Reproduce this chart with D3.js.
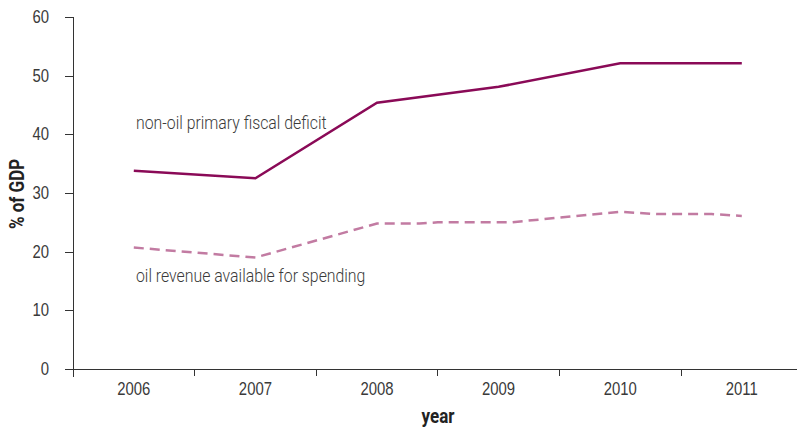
<!DOCTYPE html>
<meta charset="utf-8">
<style>
    body { margin: 0; background: #fff; }
    svg { font-family: Roboto, "Liberation Sans", sans-serif; }
    .axis path, .axis line { fill: none; stroke: #333; shape-rendering: crispEdges; }
    .axis text { fill: #3a3a3a; font-size: 17.5px; font-weight: 300; }
    .label { fill: #3a3a3a; font-size: 18px; font-weight: 300; }
    .title { fill: #222; font-size: 20px; font-weight: bold; }
</style>
<body>
<script src="https://cdn.jsdelivr.net/npm/d3@7"></script>
<script>
    const years = [2006, 2007, 2008, 2009, 2010, 2011];
    const yTicks = [0, 10, 20, 30, 40, 50, 60];

    // non-oil primary fiscal deficit (% of GDP), yearly
    const deficitX = [2006, 2007, 2008, 2009, 2010, 2011];
    const deficit = [33.8, 32.5, 45.4, 48.1, 52.1, 52.1];

    // oil revenue available for spending (% of GDP)
    const oilX = [2006, 2007, 2008, 2008.35, 2008.5, 2009, 2009.1, 2009.5, 2010, 2010.3, 2010.75, 2011];
    const oil = [20.7, 19.0, 24.8, 24.8, 25.0, 25.0, 25.0, 25.8, 26.8, 26.4, 26.4, 26.1];

    const width = 797, height = 427;
    const plotLeft = 73, plotTop = 17, plotBottom = 369;
    const condense = 'scale(0.85,1)';

    const svg = d3.select('body').append('svg')
        .attr('width', width)
        .attr('height', height);

    const x = d3.scaleBand()
        .domain(years)
        .range([plotLeft, plotLeft + 6 * 121.6])
        .padding(0);

    // numeric year -> centre of its band
    const xn = d3.scaleLinear()
        .domain([2006, 2011])
        .range([x(2006) + x.bandwidth() / 2, x(2011) + x.bandwidth() / 2]);

    const y = d3.scaleLinear()
        .domain([0, 60])
        .range([plotBottom, plotTop]);

    // y axis
    const yAxis = svg.append('g')
        .attr('class', 'axis')
        .attr('transform', 'translate(' + plotLeft + ',0)')
        .call(d3.axisLeft(y).tickValues(yTicks).tickSize(8).tickSizeOuter(0).tickPadding(5));
    yAxis.select('.domain').remove();
    yAxis.selectAll('.tick text')
        .attr('transform', 'translate(-13,0) ' + condense);
    yAxis.append('line')
        .attr('x1', 0).attr('x2', 0)
        .attr('y1', plotTop).attr('y2', plotBottom + 8);

    // x axis: labels at band centres, ticks at band edges
    const xAxis = svg.append('g')
        .attr('class', 'axis')
        .attr('transform', 'translate(0,' + plotBottom + ')')
        .call(d3.axisBottom(x).tickSize(0).tickPadding(14));
    xAxis.select('.domain').remove();
    xAxis.selectAll('.tick text').attr('transform', condense);
    xAxis.append('line')
        .attr('x1', plotLeft - 8).attr('x2', width)
        .attr('y1', 0).attr('y2', 0);
    xAxis.selectAll('.edge')
        .data(years)
        .enter().append('line')
        .attr('class', 'edge')
        .attr('x1', d => x(d)).attr('x2', d => x(d))
        .attr('y1', 0).attr('y2', 7);

    const line = d3.line()
        .x(d => xn(d[0]))
        .y(d => y(d[1]));

    svg.append('path')
        .datum(deficitX.map((d, i) => [d, deficit[i]]))
        .attr('d', line)
        .attr('fill', 'none')
        .attr('stroke', '#8a0a57')
        .attr('stroke-width', 2.5);

    svg.append('path')
        .datum(oilX.map((d, i) => [d, oil[i]]))
        .attr('d', line)
        .attr('fill', 'none')
        .attr('stroke', '#c27ba2')
        .attr('stroke-width', 2.5)
        .attr('stroke-dasharray', '10,6');

    // series labels, a bit wider than the tick text
    svg.append('text')
        .attr('class', 'label')
        .attr('transform', 'translate(136,129) scale(0.88,1)')
        .text('non-oil primary fiscal deficit');

    svg.append('text')
        .attr('class', 'label')
        .attr('transform', 'translate(136,282) scale(0.88,1)')
        .text('oil revenue available for spending');

    svg.append('text')
        .attr('class', 'title')
        .attr('transform', 'translate(438,423) ' + condense)
        .style('text-anchor', 'middle')
        .text('year');

    svg.append('text')
        .attr('class', 'title')
        .attr('transform', 'translate(24,194) rotate(-90) ' + condense)
        .style('text-anchor', 'middle')
        .text('% of GDP');
</script>
</body>
